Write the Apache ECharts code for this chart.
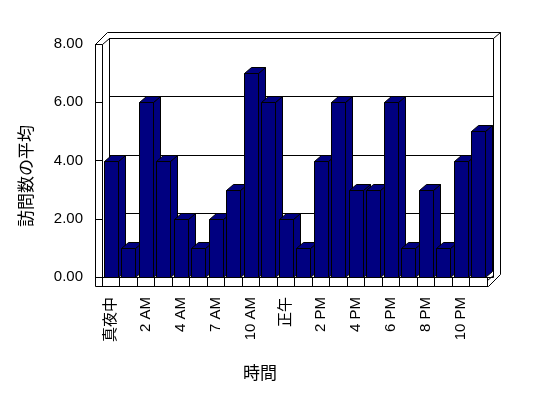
<!DOCTYPE html>
<html>
<head>
<meta charset="utf-8">
<script src="https://cdn.jsdelivr.net/npm/echarts@6/dist/echarts.min.js"></script>
<style>
  html, body { margin: 0; padding: 0; background: #fff; }
  #main { width: 548px; height: 398px; }
</style>
</head>
<body>
<div id="main"></div>
<script>
// 時間帯ごとの訪問数の平均
var hours = ['真夜中', '1 AM', '2 AM', '3 AM', '4 AM', '5 AM', '7 AM', '8 AM', '10 AM', '11 AM', '正午',
             '1 PM', '2 PM', '3 PM', '4 PM', '5 PM', '6 PM', '7 PM', '8 PM', '9 PM', '10 PM', '11 PM'];
var visits = [4, 1, 6, 4, 2, 1, 2, 3, 7, 6, 2, 1, 4, 6, 3, 3, 6, 1, 3, 1, 4, 5];
var yTicks = [0, 2, 4, 6, 8];

var fontJP = '"Liberation Sans", "Noto Sans CJK JP", sans-serif';
var barColor = '#000080';

var myChart = echarts.init(document.getElementById('main'));

// 立体の棒 (前面・上面・側面)
function renderBar(params, api) {
    var top = api.coord([api.value(0), api.value(1)]);
    var base = api.coord([api.value(0), 0]);
    var band = api.size([1, 0])[0];
    var w = band * 0.8;
    var dx = 7, dy = -6;
    var x0 = Math.round(top[0] - w / 2) + 0.5;
    var x1 = x0 + Math.round(w);
    var y1 = Math.round(top[1]) + 0.5;
    var y0 = Math.round(base[1]) + 0.5;
    var st = { fill: barColor, stroke: '#000', lineWidth: 1 };
    return {
        type: 'group',
        children: [
            { type: 'polygon', shape: { points: [[x1, y1], [x1 + dx, y1 + dy], [x1 + dx, y0 + dy], [x1, y0]] }, style: st },
            { type: 'polygon', shape: { points: [[x0, y1], [x0 + dx, y1 + dy], [x1 + dx, y1 + dy], [x1, y1]] }, style: st },
            { type: 'rect', shape: { x: x0, y: y1, width: x1 - x0, height: y0 - y1 }, style: st }
        ]
    };
}

function line(points) {
    return {
        type: 'polyline',
        shape: { points: points },
        style: { stroke: '#000', lineWidth: 1, fill: null },
        silent: true
    };
}

var option = {
    animation: false,
    backgroundColor: '#fff',
    grid: [
        { left: 109, right: 55, top: 38, bottom: 126 },   // 奥の壁
        { left: 95, width: 7, top: 44, bottom: 121 },      // 左の壁 (目盛)
        { left: 102, right: 61, top: 44, bottom: 121 }     // 棒
    ],
    xAxis: [
        { gridIndex: 0, type: 'category', data: hours, show: false },
        { gridIndex: 1, type: 'value', show: false },
        {
            gridIndex: 2,
            type: 'category',
            data: hours,
            axisLine: { lineStyle: { color: '#000', width: 1 } },
            axisTick: { show: true, length: 9, interval: 0, lineStyle: { color: '#000' } },
            axisLabel: {
                interval: 1,
                rotate: 90,
                margin: 20,
                color: '#000',
                fontSize: 15,
                fontFamily: fontJP
            }
        }
    ],
    yAxis: [
        {
            gridIndex: 0, type: 'value', min: 0, max: 8, interval: 2,
            axisLine: { show: false }, axisTick: { show: false }, axisLabel: { show: false },
            splitLine: { lineStyle: { color: ['rgba(0,0,0,0)', '#000', '#000', '#000', '#000'], width: 1 } }
        },
        {
            gridIndex: 1, type: 'value', min: 0, max: 8, interval: 2,
            axisLine: { show: false },
            axisTick: { show: true, inside: true, length: 7, lineStyle: { color: '#000' } },
            axisLabel: {
                margin: 12,
                color: '#000',
                fontSize: 15,
                fontFamily: fontJP,
                formatter: function (v) { return v.toFixed(2); }
            },
            splitLine: { show: false }
        },
        { gridIndex: 2, type: 'value', min: 0, max: 8, interval: 2, show: false, splitLine: { show: false } }
    ],
    series: [{
        type: 'custom',
        xAxisIndex: 2,
        yAxisIndex: 2,
        renderItem: renderBar,
        encode: { x: 0, y: 1 },
        data: visits.map(function (v, i) { return [i, v]; }),
        z: 3
    }],
    graphic: [
        // 枠線
        line([[95.5, 286.5], [95.5, 44.5], [107.5, 32.5], [500.5, 32.5], [500.5, 274.5], [488.5, 286.5], [95.5, 286.5]]),
        line([[95.5, 44.5], [102.5, 44.5], [109.5, 38.5]]),
        line([[102.5, 44.5], [102.5, 281.5]]),
        line([[109.5, 277.5], [109.5, 38.5], [493.5, 38.5], [493.5, 277.5]]),
        line([[493.5, 38.5], [500.5, 32.5]]),
        line([[487.5, 277.5], [493.5, 277.5]]),
        line([[487.5, 280.5], [493.5, 275.5]]),
        {
            type: 'text',
            left: 243, top: 366,
            style: { text: '時間', fontSize: 17, fontFamily: fontJP, fill: '#000' }
        },
        {
            type: 'text',
            x: 19, y: 227,
            rotation: Math.PI / 2,
            style: { text: '訪問数の平均', fontSize: 17, fontFamily: fontJP, fill: '#000' }
        }
    ]
};

myChart.setOption(option);
</script>
</body>
</html>
